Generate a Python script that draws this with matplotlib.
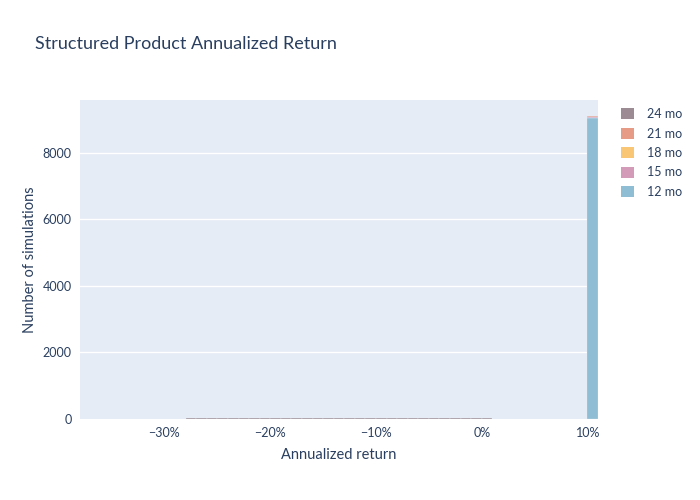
import matplotlib
matplotlib.use("Agg")
import matplotlib.pyplot as plt
from matplotlib.patches import Patch
from matplotlib.ticker import FuncFormatter
import numpy as np

plt.rcParams['font.family'] = ['Lato', 'DejaVu Sans']

# histogram bins (annualized return, as fraction)
bin_start = -0.3793
bin_width = 0.00997
n_bins = 49

series = ['12 mo', '15 mo', '18 mo', '21 mo', '24 mo']
colors = ['#8fbdd3', '#d49bb8', '#f8c674', '#e59b86', '#9c8b93']

# counts per series in the 10% coupon bin
big_bin = 48
called_counts = {'12 mo': 9062, '15 mo': 3, '18 mo': 3, '21 mo': 52, '24 mo': 0}
# 24 mo losses, bins 10..38
loss_bins = list(range(10, 39))
loss_counts = [28, 31, 27, 30, 33, 29, 26, 32, 30, 28, 31, 29, 27, 33, 30,
               28, 32, 29, 31, 27, 30, 33, 28, 31, 29, 32, 30, 33, 32]

lefts = bin_start + bin_width * np.arange(n_bins)

fig = plt.figure(figsize=(7, 5), dpi=100)
ax = fig.add_axes([80 / 700, 1 - 419 / 500, 518 / 700, 319 / 500])
ax.set_facecolor('#e5ecf6')

bottom = np.zeros(n_bins)
for name, c in zip(series, colors):
    h = np.zeros(n_bins)
    h[big_bin] = called_counts[name]
    if name == '24 mo':
        h[loss_bins] = loss_counts
    ax.bar(lefts, h, width=bin_width, bottom=bottom, align='edge', color=c,
           edgecolor='#e5ecf6', linewidth=0.2, zorder=3)
    bottom += h

ax.set_xlim(bin_start, bin_start + bin_width * n_bins)
ax.set_ylim(0, bottom.max() * 1.0515)
ax.set_xticks([-0.3, -0.2, -0.1, 0.0, 0.1])
ax.xaxis.set_major_formatter(FuncFormatter(
    lambda v, p: f"{v * 100:.0f}%".replace('-', '\u2212')))
ax.set_yticks([0, 2000, 4000, 6000, 8000])
ax.grid(axis='y', color='white', linewidth=1, zorder=0)
ax.tick_params(length=0, labelsize=9, colors='#2a3f5f', pad=6)
for s in ax.spines.values():
    s.set_visible(False)

ax.set_xlabel('Annualized return', fontsize=10.5, color='#2a3f5f', labelpad=6)
ax.set_ylabel('Number of simulations', fontsize=10.5, color='#2a3f5f', labelpad=4)
fig.text(35 / 700, 1 - 44 / 500, 'Structured Product Annualized Return',
         fontsize=13, color='#2a3f5f', va='center', ha='left')

handles = [Patch(facecolor=c, edgecolor='none') for c in colors]
leg = fig.legend(handles[::-1], series[::-1], loc='upper left',
                 bbox_to_anchor=(621 / 700, 1 - 108 / 500), frameon=False,
                 fontsize=9, handlelength=1.0, handleheight=1.0,
                 handletextpad=1.1, labelspacing=0.6, borderaxespad=0,
                 borderpad=0)
for t in leg.get_texts():
    t.set_color('#2a3f5f')

fig.savefig('out.png', dpi=100)
